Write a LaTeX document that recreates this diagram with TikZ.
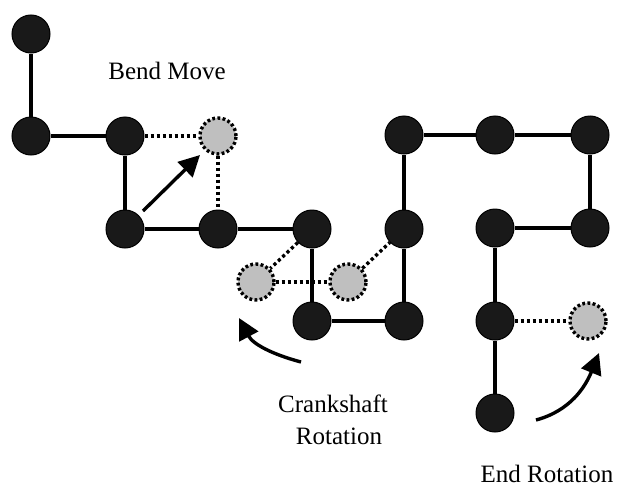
\documentclass[tikz,border=0pt]{standalone}
\usepackage{fontspec}
\setmainfont{Liberation Serif}
\usetikzlibrary{arrows.meta}
\begin{document}
\begin{tikzpicture}[x=1pt,y=1pt,
  bead/.style={circle,fill=black!90,draw=black,line width=1pt,minimum size=38pt,inner sep=0pt},
  ghost/.style={circle,fill=gray!50,draw=black,line width=3.4pt,dash pattern=on 2.8pt off 2.4pt,minimum size=36pt,inner sep=0pt},
  bond/.style={line width=3.2pt},
  trial/.style={line width=3.4pt,dash pattern=on 3.2pt off 2.8pt},
  move/.style={line width=3.4pt,-{Triangle[length=21pt,width=21pt]}},
  lbl/.style={font=\fontsize{25}{32}\selectfont,align=center}]
\useasboundingbox (0,0) rectangle (617,-487);
% beads
\node[bead] (a1) at (31,-34) {};
\node[bead] (a2) at (31,-136) {};
\node[bead] (a3) at (125,-136) {};
\node[bead] (a4) at (125,-229) {};
\node[bead] (a5) at (218,-229) {};
\node[bead] (a6) at (312,-229) {};
\node[bead] (a7) at (312,-321) {};
\node[bead] (a8) at (404,-321) {};
\node[bead] (a9) at (404,-229) {};
\node[bead] (a10) at (404,-135) {};
\node[bead] (a11) at (495,-135) {};
\node[bead] (a12) at (590,-135) {};
\node[bead] (a13) at (590,-228) {};
\node[bead] (a14) at (495,-228) {};
\node[bead] (a15) at (495,-321) {};
\node[bead] (a16) at (495,-413) {};
% trial positions
\node[ghost] (g1) at (218,-136) {};
\node[ghost] (g2) at (256,-282) {};
\node[ghost] (g3) at (348,-282) {};
\node[ghost] (g4) at (588,-321) {};
% bonds
\draw[bond] (a1) -- (a2);
\draw[bond] (a2) -- (a3);
\draw[bond] (a3) -- (a4);
\draw[bond] (a4) -- (a5);
\draw[bond] (a5) -- (a6);
\draw[bond] (a6) -- (a7);
\draw[bond] (a7) -- (a8);
\draw[bond] (a8) -- (a9);
\draw[bond] (a9) -- (a10);
\draw[bond] (a10) -- (a11);
\draw[bond] (a11) -- (a12);
\draw[bond] (a12) -- (a13);
\draw[bond] (a13) -- (a14);
\draw[bond] (a14) -- (a15);
\draw[bond] (a15) -- (a16);
% trial bonds
\draw[trial] (a3) -- (g1);
\draw[trial] (g1) -- (a5);
\draw[trial] (a6) -- (g2);
\draw[trial] (g2) -- (g3);
\draw[trial] (g3) -- (a9);
\draw[trial] (a15) -- (g4);
% move arrows
\coordinate (b0) at (143,-211);
\coordinate (b1) at (200,-155);
\draw[move] (b0) -- (b1);
\coordinate (c0) at (301,-362);
\coordinate (c1) at (239,-318);
\draw[move] (c0) to[out=165,in=-62] (c1);
\coordinate (e0) at (536,-420);
\coordinate (e1) at (599,-353);
\draw[move] (e0) to[out=15,in=-112] (e1);
% labels
\node[lbl] (t1) at (167,-71) {Bend Move};
\node[lbl] (t2) at (333,-420) {Crankshaft\\\hspace*{12pt}Rotation};
\node[lbl] (t3) at (547,-474) {End Rotation};
\end{tikzpicture}
\end{document}
